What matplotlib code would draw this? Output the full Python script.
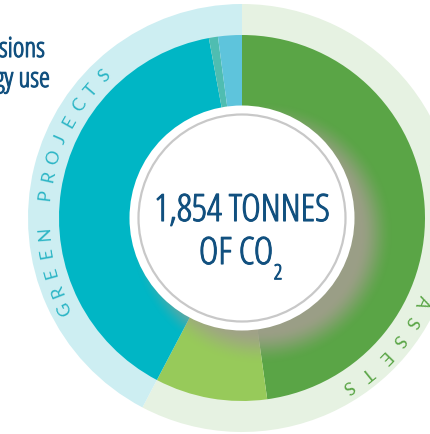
import numpy as np
import matplotlib
matplotlib.use("Agg")
import matplotlib.pyplot as plt
import matplotlib.patheffects as pe
from matplotlib.patches import Circle

# inner ring: share of the 1,854 t CO2, clockwise from 12 o'clock
inner_labels = ["assets main", "assets other", "projects main", "projects small", "projects other"]
inner_values = [47.8, 9.9, 39.4, 0.8, 2.1]
inner_colors = ["#5aa546", "#97ca5a", "#00b6c5", "#4fbdb1", "#5ec4dc"]

# outer ring: the two groups
outer_labels = ["GREEN ASSETS", "GREEN PROJECTS"]
outer_values = [57.7, 42.3]
outer_colors = ["#e6f2e2", "#cdeef2"]
outer_text_colors = ["#5aa546", "#2bb5c5"]
outer_text_start = [15.0, 206.7]   # angle of first letter (deg)
outer_text_step = [6.6, 5.6]       # deg per letter, clockwise

center_line1 = "1,854 TONNES"
center_line2 = "OF CO"
center_sub = "2"
side_lines = ["sions", "gy use"]

blue = "#11507f"
W, H = 431, 435
cx, cy = 242, H - 219
r_out, r_in, r_hole = 214, 183, 112.5

fig = plt.figure(figsize=(W / 100, H / 100), dpi=100)
ax = fig.add_axes([0, 0, 1, 1])

ax.pie(outer_values, colors=outer_colors, startangle=90, counterclock=False,
       center=(cx, cy), radius=r_out, wedgeprops=dict(width=r_out - r_in + 1, linewidth=0))
ax.pie(inner_values, colors=inner_colors, startangle=90, counterclock=False,
       center=(cx, cy), radius=r_in, wedgeprops=dict(width=r_in - 100, linewidth=0))

# soft shadow of the centre disc, falling to the lower right
xs = np.linspace(cx - r_in, cx + r_in, 400)
ys = np.linspace(cy - r_in, cy + r_in, 400)
X, Y = np.meshgrid(xs, ys)
d = np.hypot(X - (cx + 20), Y - (cy - 15))
t = np.clip((132 - d) / 34, 0, 1)
a = t * t * (3 - 2 * t) * 0.92
img = np.zeros((400, 400, 4))
img[..., 0], img[..., 1], img[..., 2] = 0.635, 0.62, 0.55
img[..., 3] = a
im = ax.imshow(img, extent=(xs[0], xs[-1], ys[0], ys[-1]), origin="lower",
               interpolation="bilinear", zorder=3)
im.set_clip_path(Circle((cx, cy), r_in, transform=ax.transData))

ax.add_patch(Circle((cx, cy), r_hole, facecolor="white", edgecolor="none", zorder=4))
ax.add_patch(Circle((cx, cy), 103.5, facecolor="none", edgecolor="#c8c8c8", lw=1.6, zorder=5))

# the original face is heavier than Open Sans Condensed Light, thicken it a bit
heavy = [pe.withStroke(linewidth=0.8, foreground=blue)]
cond = dict(family="Open Sans", stretch="condensed", weight="light", color=blue,
            path_effects=heavy)
ax.text(cx, H - 222, center_line1, ha="center", va="baseline", fontsize=27, zorder=6, **cond)
t2 = ax.text(cx - 6, H - 265, center_line2, ha="center", va="baseline", fontsize=27,
             zorder=6, **cond)
ax.annotate(center_sub, xy=(1, 0), xycoords=t2, xytext=(0.5, -4.5), textcoords="offset points",
            ha="left", va="baseline", fontsize=15, zorder=6, **cond)

ax.text(45, H - 58, side_lines[0], ha="right", va="baseline", fontsize=20, **cond)
ax.text(50, H - 88, side_lines[1], ha="right", va="baseline", fontsize=20, **cond)

r_txt = 198
for label, col, start, step in zip(outer_labels, outer_text_colors, outer_text_start, outer_text_step):
    for i, ch in enumerate(label):
        th = start - step * i
        x = cx + r_txt * np.cos(np.radians(th))
        y = cy + r_txt * np.sin(np.radians(th))
        ax.text(x, y, ch, rotation=th - 90, rotation_mode="anchor", ha="center", va="center",
                fontsize=13, color=col, family="Lato", weight="normal", zorder=6)

ax.set_xlim(0, W)
ax.set_ylim(0, H)
ax.set_aspect("equal")
ax.axis("off")
fig.savefig("out.png", dpi=100)
